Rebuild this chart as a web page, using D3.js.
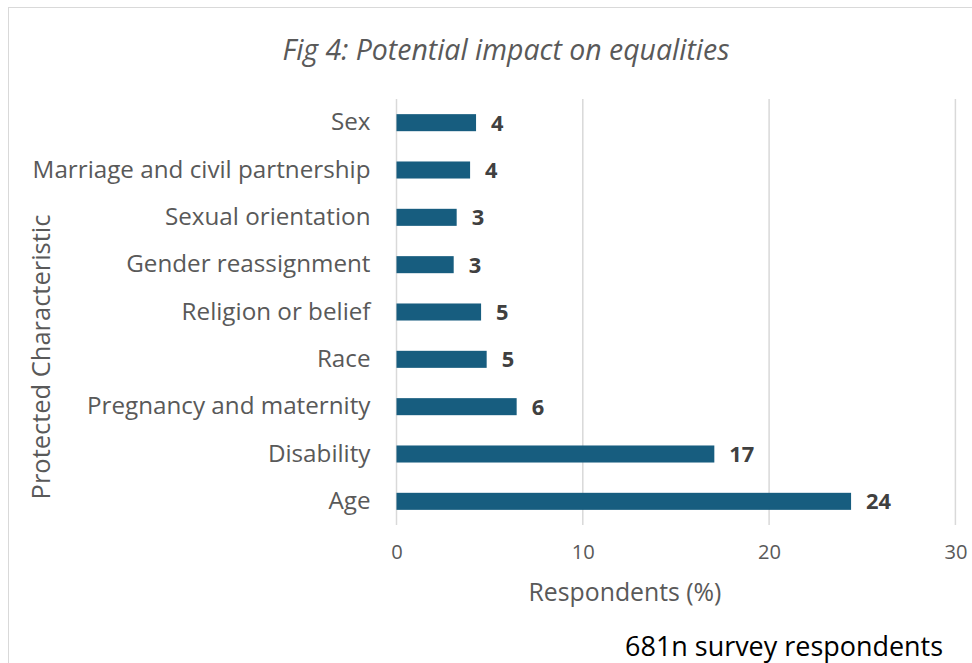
<!DOCTYPE html>
<html><head><meta charset="utf-8">
<script src="https://cdn.jsdelivr.net/npm/d3@7"></script>
<style>body{margin:0;background:#fff;} svg{display:block;}</style>
</head><body>
<script>
const categories = ["Sex","Marriage and civil partnership","Sexual orientation","Gender reassignment","Religion or belief","Race","Pregnancy and maternity","Disability","Age"];
const values = [4.27, 3.95, 3.23, 3.07, 4.54, 4.84, 6.45, 17.06, 24.4];
const xTicks = [0, 10, 20, 30];
const title = "Fig 4: Potential impact on equalities";
const xTitle = "Respondents (%)";
const yTitle = "Protected Characteristic";
const note = "681n survey respondents";

(function(){
const W = 972, H = 663;
const font = "'Open Sans', Roboto, sans-serif";
const svg = d3.select("body").append("svg").attr("width", W).attr("height", H);
svg.append("rect").attr("x", 8.5).attr("y", 7.5).attr("width", W + 10).attr("height", H + 10)
  .attr("fill", "#fff").attr("stroke", "#d9d9d9").attr("stroke-width", 1);

// scale font size of a selection so that a reference node has the given width
function fit(sel, refNode, target) {
  const s = +sel.attr("font-size");
  const w = refNode.getComputedTextLength();
  sel.attr("font-size", (s * target / w).toFixed(2));
}

const pL = 396.5, pR = 955.4, pT = 99, pB = 525;
const x = d3.scaleLinear().domain([0, 30]).range([pL, pR]);
const y = d3.scaleBand().domain(categories).range([pT, pB]).paddingInner(0.64).paddingOuter(0.32);

svg.append("g").selectAll("line").data(xTicks).join("line")
  .attr("x1", d => x(d)).attr("x2", d => x(d)).attr("y1", pT).attr("y2", pB)
  .attr("stroke", "#d9d9d9").attr("stroke-width", 1.5);

svg.append("g").selectAll("rect").data(values).join("rect")
  .attr("x", x(0)).attr("y", (d, i) => y(categories[i]))
  .attr("width", d => x(d) - x(0)).attr("height", y.bandwidth())
  .attr("fill", "#175d7f");

const vl = svg.append("g").selectAll("text").data(values).join("text")
  .attr("x", d => x(d) + 15).attr("y", (d, i) => y(categories[i]) + y.bandwidth() / 2)
  .attr("dy", "0.36em").attr("font-family", font).attr("font-weight", "bold")
  .attr("font-size", 19).attr("fill", "#404040").text(d => d3.format(".0f")(d));
fit(vl, vl.nodes()[8], 25);

const yAxis = svg.append("g").attr("transform", `translate(${pL},0)`)
  .call(d3.axisLeft(y).tickSize(0).tickPadding(26));
yAxis.select(".domain").remove();
const yl = yAxis.selectAll("text").attr("font-family", font).attr("font-size", 21).attr("fill", "#595959");
fit(yl, yl.nodes()[1], 338);

const xAxis = svg.append("g").attr("transform", `translate(0,${pB})`)
  .call(d3.axisBottom(x).tickValues(xTicks).tickSize(0).tickPadding(20).tickFormat(d3.format("d")));
xAxis.select(".domain").remove();
const xl = xAxis.selectAll("text").attr("font-family", font).attr("font-size", 19).attr("fill", "#595959");
fit(xl, xl.nodes()[3], 23);

const t = svg.append("text").attr("x", 506).attr("y", 60).attr("text-anchor", "middle")
  .attr("font-family", font).attr("font-style", "italic").attr("font-size", 25).attr("fill", "#595959").text(title);
fit(t, t.node(), 447);
const xt = svg.append("text").attr("x", 625).attr("y", 601).attr("text-anchor", "middle")
  .attr("font-family", font).attr("font-size", 21).attr("fill", "#595959").text(xTitle);
fit(xt, xt.node(), 193);
const yt = svg.append("text").attr("transform", "translate(50,357) rotate(-90)").attr("text-anchor", "middle")
  .attr("font-family", font).attr("font-size", 23).attr("fill", "#595959").text(yTitle);
fit(yt, yt.node(), 285);
const nt = svg.append("text").attr("x", 943).attr("y", 656).attr("text-anchor", "end")
  .attr("font-family", font).attr("font-size", 21).attr("fill", "#000").text(note);
fit(nt, nt.node(), 318);
})();
</script>
</body></html>
